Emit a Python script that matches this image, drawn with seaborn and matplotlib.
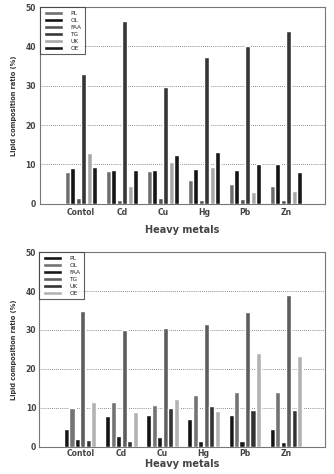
import pandas as pd
import seaborn as sns
from matplotlib import pyplot as plt

metals = ['Contol', 'Cd', 'Cu', 'Hg', 'Pb', 'Zn']
lipids = ['PL', 'OL', 'FAA', 'TG', 'UK', 'OE']

# top panel values (%)
top_PL = [8.0, 8.3, 8.3, 6.0, 5.1, 4.6]
top_OL = [9.2, 8.5, 8.7, 8.9, 8.5, 10.0]
top_FAA = [1.5, 1.0, 1.5, 1.0, 1.2, 1.0]
top_TG = [33.0, 46.5, 29.8, 37.3, 40.1, 43.9]
top_UK = [12.8, 4.6, 10.7, 9.3, 3.1, 3.3]
top_OE = [9.3, 8.5, 12.3, 13.2, 10.0, 8.0]

# bottom panel values (%)
bot_PL = [4.4, 7.8, 8.1, 7.2, 8.2, 4.4]
bot_OL = [10.0, 11.4, 10.6, 13.3, 13.9, 14.1]
bot_FAA = [1.9, 2.7, 2.5, 1.5, 1.3, 1.1]
bot_TG = [34.8, 29.9, 30.4, 31.6, 34.5, 38.9]
bot_UK = [1.7, 1.5, 9.8, 10.4, 9.5, 9.5]
bot_OE = [11.4, 8.8, 12.3, 9.1, 24.0, 23.2]

top_colors = ['#6e6e6e', '#141414', '#555555', '#363636', '#a8a8a8', '#181818']
bot_colors = ['#141414', '#737373', '#181818', '#5e5e5e', '#333333', '#b2b2b2']


def make_frame(series):
    rows = []
    for lip, vals in zip(lipids, series):
        for m, v in zip(metals, vals):
            rows.append({'Metal': m, 'Lipid': lip, 'Value': v})
    return pd.DataFrame(rows)


top = make_frame([top_PL, top_OL, top_FAA, top_TG, top_UK, top_OE])
bot = make_frame([bot_PL, bot_OL, bot_FAA, bot_TG, bot_UK, bot_OE])

sns.set_style('white')
plt.rcParams['font.family'] = ['DejaVu Sans']

fig = plt.figure(figsize=(3.34, 4.74), dpi=100)
ax1 = fig.add_axes([0.12, 0.570, 0.853, 0.415])
ax2 = fig.add_axes([0.117, 0.058, 0.856, 0.41])


def draw(ax, data, colors, tick_pad, xlab_pad):
    sns.barplot(data=data, x='Metal', y='Value', hue='Lipid', palette=colors,
                width=0.8, gap=0.08, ax=ax, zorder=3)
    ax.set_xlim(-1.0, 5.95)
    ax.set_ylim(0, 50)
    ax.set_yticks([0, 10, 20, 30, 40, 50])
    for yv in [10, 20, 30, 40]:
        ax.axhline(yv, color='#666666', linestyle=(0, (1.0, 1.5)), linewidth=0.6, zorder=1)
    ax.tick_params(axis='both', labelsize=5.5, colors='#444444', length=0, pad=tick_pad)
    for lab in ax.get_xticklabels() + ax.get_yticklabels():
        lab.set_fontweight('bold')
    ax.set_ylabel('Lipid composition ratio (%)', fontsize=4.8, fontweight='bold', color='#333333', labelpad=6)
    ax.set_xlabel('Heavy metals', fontsize=7, fontweight='bold', color='#444444', labelpad=xlab_pad)
    for s in ax.spines.values():
        s.set_color('#777777')
        s.set_linewidth(0.8)
    leg = ax.legend(loc='upper left', fontsize=4.2, frameon=True, fancybox=False,
                    handlelength=3.4, handleheight=0.8, labelspacing=0.3,
                    borderaxespad=0.0, borderpad=0.6, handletextpad=1.2)
    leg.get_frame().set_edgecolor('#333333')
    leg.get_frame().set_linewidth(0.8)
    leg.set_zorder(5)


draw(ax1, top, top_colors, 3, 6)
draw(ax2, bot, bot_colors, 2, 0.5)

fig.savefig('out.png', dpi=100)
